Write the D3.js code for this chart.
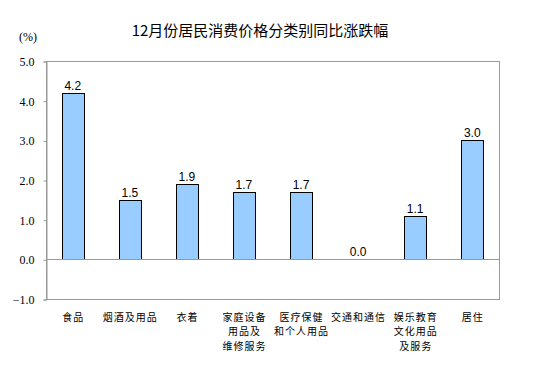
<!DOCTYPE html>
<html>
<head>
<meta charset="utf-8">
<script src="https://cdn.jsdelivr.net/npm/d3@7"></script>
<style>
body { margin: 0; background: #fff; }
</style>
</head>
<body>
<svg></svg>
<script>
const categories = [
    ["食品"],
    ["烟酒及用品"],
    ["衣着"],
    ["家庭设备", "用品及", "维修服务"],
    ["医疗保健", "和个人用品"],
    ["交通和通信"],
    ["娱乐教育", "文化用品", "及服务"],
    ["居住"]
];
const values = [4.2, 1.5, 1.9, 1.7, 1.7, 0.0, 1.1, 3.0];
const yTicks = [-1, 0, 1, 2, 3, 4, 5];

const width = 551;
const height = 371;
const plot = {left: 46, right: 499, top: 61, bottom: 299};

const svg = d3.select("svg")
    .attr("width", width)
    .attr("height", height);

const x = d3.scaleBand()
    .domain(d3.range(categories.length))
    .range([plot.left - 1.5, plot.right + 1.5])
    .paddingInner(0.61)
    .paddingOuter(0.3);

const y = d3.scaleLinear()
    .domain([-1, 5])
    .range([plot.bottom, plot.top]);

// frame
svg.append("rect")
    .attr("x", plot.left + 0.5)
    .attr("y", plot.top + 0.5)
    .attr("width", plot.right - plot.left)
    .attr("height", plot.bottom - plot.top)
    .attr("fill", "none")
    .attr("stroke", "#999");

// y axis
const yAxis = svg.append("g")
    .attr("transform", "translate(" + (plot.left + 0.5) + ",0.5)")
    .call(d3.axisLeft(y).tickValues(yTicks).tickSize(3).tickPadding(9)
        .tickFormat(d3.format(".1f")));
yAxis.select(".domain").attr("stroke", "#999");
yAxis.selectAll(".tick line").attr("stroke", "#999");
yAxis.selectAll("text")
    .attr("font-family", "'Liberation Serif', 'Times New Roman', serif")
    .attr("font-size", 12)
    .attr("fill", "#000");

// bars
svg.append("g").selectAll("rect")
    .data(values)
    .enter().append("rect")
    .attr("x", (d, i) => Math.round(x(i)) + 0.5)
    .attr("y", d => Math.round(y(Math.max(d, 0))) + 0.5)
    .attr("width", Math.round(x.bandwidth()))
    .attr("height", d => Math.abs(Math.round(y(0)) - Math.round(y(d))))
    .attr("fill", "#99CCFF")
    .attr("stroke", "#000")
    .attr("stroke-width", 1);

// zero line
svg.append("line")
    .attr("x1", plot.left)
    .attr("x2", plot.right)
    .attr("y1", Math.round(y(0)) + 0.5)
    .attr("y2", Math.round(y(0)) + 0.5)
    .attr("stroke", "#999");

// value labels
svg.append("g").selectAll("text")
    .data(values)
    .enter().append("text")
    .attr("x", (d, i) => x(i) + x.bandwidth() / 2)
    .attr("y", d => y(d) - 3)
    .attr("text-anchor", "middle")
    .attr("font-family", "Arial, 'Liberation Sans', sans-serif")
    .attr("font-size", 12)
    .text(d => d3.format(".1f")(d));

// category labels
const cat = svg.append("g").selectAll("text")
    .data(categories)
    .enter().append("text")
    .attr("text-anchor", "middle")
    .attr("font-family", "'Noto Sans CJK SC', sans-serif")
    .attr("font-size", 10)
    .attr("letter-spacing", 1)
    .attr("x", (d, i) => x(i) + x.bandwidth() / 2 + 0.5)
    .attr("y", 321);
cat.selectAll("tspan")
    .data(d => d)
    .enter().append("tspan")
    .attr("x", function () { return d3.select(this.parentNode).attr("x"); })
    .attr("dy", (d, i) => i === 0 ? 0 : 14.3)
    .text(d => d);

// title
svg.append("text")
    .attr("x", 260)
    .attr("y", 36)
    .attr("text-anchor", "middle")
    .attr("font-family", "'Noto Sans CJK SC', sans-serif")
    .attr("font-size", 15)
    .text("12月份居民消费价格分类别同比涨跌幅");

svg.append("text")
    .attr("x", 19)
    .attr("y", 41)
    .attr("font-family", "'Liberation Serif', 'Times New Roman', serif")
    .attr("font-size", 12)
    .text("(%)");
</script>
</body>
</html>
